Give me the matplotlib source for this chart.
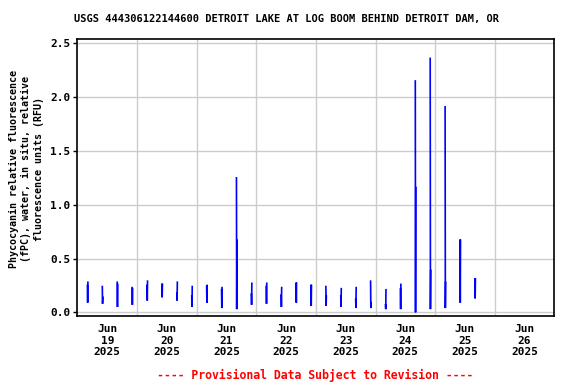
import numpy as np
import pandas as pd
import matplotlib
matplotlib.use('Agg')
import matplotlib.pyplot as plt

# Phycocyanin bursts: one reading cluster every 6 hours starting Jun 19 04:00
start = pd.Timestamp('2025-06-19 00:00')
burst_hours = [4, 10, 16, 22, 28, 34, 40, 46, 52, 58, 64, 70, 76, 82,
               88, 94, 100, 106, 112, 118, 124, 130, 136, 142, 148, 154, 160]
# values within each burst (a few samples a few minutes apart)
burst_values = [
    [0.25, 0.09, 0.28], [0.24, 0.08, 0.14], [0.28, 0.05, 0.26], [0.23, 0.07, 0.22],
    [0.25, 0.11, 0.29], [0.26, 0.14, 0.26], [0.18, 0.11, 0.28], [0.15, 0.05, 0.24],
    [0.24, 0.09, 0.25], [0.21, 0.04, 0.23], [1.25, 0.03, 0.67], [0.17, 0.07, 0.27],
    [0.24, 0.08, 0.27], [0.16, 0.05, 0.23], [0.27, 0.09, 0.27], [0.25, 0.06, 0.25],
    [0.24, 0.06, 0.15], [0.15, 0.05, 0.22], [0.12, 0.04, 0.23], [0.29, 0.04, 0.09],
    [0.07, 0.03, 0.21], [0.22, 0.03, 0.26], [2.15, 0.00, 1.16], [2.36, 0.03, 0.39],
    [1.91, 0.04, 0.28], [0.67, 0.09, 0.67], [0.31, 0.13, 0.31],
]
day_ticks = pd.date_range('2025-06-19 12:00', periods=8, freq='D')
day_bounds = pd.date_range('2025-06-19', periods=9, freq='D')

plt.rcParams['font.family'] = ['DejaVu Sans Mono']
plt.rcParams['font.weight'] = 'bold'

fig = plt.figure(figsize=(5.76, 3.84), dpi=100)
ax = fig.add_axes([0.1345, 0.177, 0.828, 0.7205])

for h, vals in zip(burst_hours, burst_values):
    t0 = start + pd.Timedelta(hours=h)
    ts = [t0 + pd.Timedelta(minutes=6 * i) for i in range(len(vals))]
    ax.plot(ts, vals, color='#0000ff', lw=1.2, solid_joinstyle='miter')

ax.set_xlim(day_bounds[0], day_bounds[-1])
ax.set_ylim(-0.034, 2.537)
ax.set_yticks([0.0, 0.5, 1.0, 1.5, 2.0, 2.5])
ax.set_yticklabels(['0.0', '0.5', '1.0', '1.5', '2.0', '2.5'], fontsize=8, fontweight='bold')
ax.set_xticks(day_ticks)
ax.set_xticklabels([d.strftime('%b\n%d\n%Y') for d in day_ticks], fontsize=8,
                   fontweight='bold', linespacing=1.15)
ax.set_xticks(day_bounds[1:-1], minor=True)
ax.tick_params(axis='x', which='both', length=0, pad=6)
ax.tick_params(axis='y', length=3, width=1, pad=2)

ax.grid(True, which='minor', axis='x', color='#cccccc', lw=1)
ax.grid(True, which='major', axis='y', color='#cccccc', lw=1)
ax.set_axisbelow(True)
for s in ax.spines.values():
    s.set_linewidth(1.2)

ax.set_ylabel('Phycocyanin relative fluorescence\n(fPC), water, in situ, relative\nfluorescence units (RFU)',
              fontsize=7.2, fontweight='bold', linespacing=1.3)
ax.yaxis.set_label_coords(-0.071, 0.53)
fig.text(0.497, 0.951, 'USGS 444306122144600 DETROIT LAKE AT LOG BOOM BEHIND DETROIT DAM, OR',
         ha='center', va='center', fontsize=7.5, fontweight='bold')
fig.text(0.547, 0.023, '---- Provisional Data Subject to Revision ----',
         ha='center', va='center', fontsize=8.3, fontweight='bold', color='red')

fig.savefig('out.png', dpi=100)
